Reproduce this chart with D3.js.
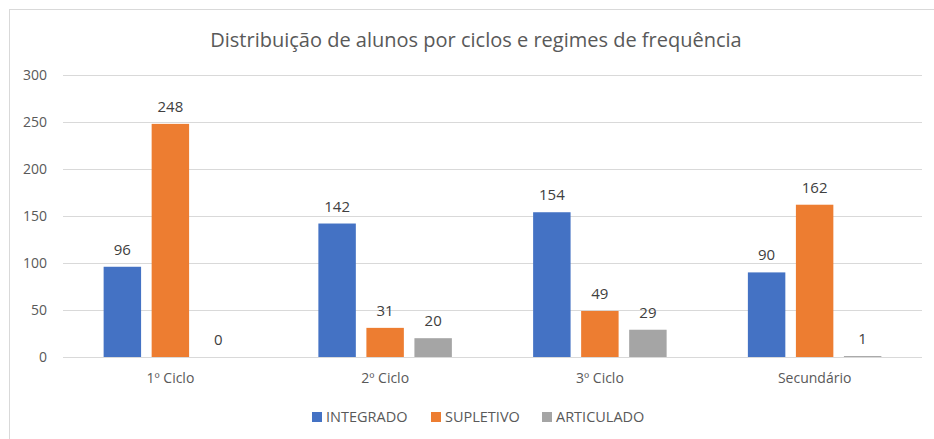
<!DOCTYPE html>
<html>
<head>
<meta charset="utf-8">
<script src="https://cdn.jsdelivr.net/npm/d3@7"></script>
<style>
  html, body { margin: 0; padding: 0; background: #fff; }
  svg { display: block; font-family: "Open Sans", "Liberation Sans", sans-serif; }
</style>
</head>
<body>
<svg id="chart" width="934" height="439"></svg>
<script>
const title = "Distribuição de alunos por ciclos e regimes de frequência";
const categories = ["1º Ciclo", "2º Ciclo", "3º Ciclo", "Secundário"];
const seriesNames = ["INTEGRADO", "SUPLETIVO", "ARTICULADO"];
const integrado = [96, 142, 154, 90];
const supletivo = [248, 31, 49, 162];
const articulado = [0, 20, 29, 1];
const yTicks = [0, 50, 100, 150, 200, 250, 300];
const colors = ["#4472C4", "#ED7D31", "#A5A5A5"];

const seriesValues = [integrado, supletivo, articulado];
const svg = d3.select("#chart");
const W = 934, H = 439;
const margin = { left: 63, right: 12, top: 75, bottom: 82 };
const textColor = "#595959";

// frame
svg.append("rect").attr("x", 9.5).attr("y", 9.5).attr("width", W).attr("height", H)
  .attr("fill", "none").attr("stroke", "#d9d9d9").attr("stroke-width", 1);

const x0 = d3.scaleBand().domain(categories).range([margin.left, W - margin.right]).paddingInner(0).paddingOuter(0);
const groupW = 133.5;
const x1 = d3.scaleBand().domain(seriesNames).range([0, groupW]).paddingInner(0.22).paddingOuter(0);
const y = d3.scaleLinear().domain([0, 300]).range([357, 75]);

// gridlines
svg.append("g").selectAll("line").data(yTicks).join("line")
  .attr("x1", margin.left).attr("x2", W - margin.right)
  .attr("y1", d => Math.round(y(d)) + 0.5).attr("y2", d => Math.round(y(d)) + 0.5)
  .attr("stroke", "#d9d9d9").attr("stroke-width", 1);

// y axis labels
const yAxis = d3.axisLeft(y).tickValues(yTicks).tickSize(0).tickPadding(0);
const gy = svg.append("g").attr("transform", "translate(47,0)").call(yAxis);
gy.select(".domain").remove();
gy.selectAll("text").attr("fill", textColor).style("font-size", "14px")
  .style("font-family", "'Open Sans', 'Liberation Sans', sans-serif");

// x axis labels
const xAxis = d3.axisBottom(x0).tickSize(0).tickPadding(0);
const gx = svg.append("g").attr("transform", "translate(0,373)").call(xAxis);
gx.select(".domain").remove();
gx.selectAll("text").attr("fill", textColor).style("font-size", "14px")
  .style("font-family", "'Open Sans', 'Liberation Sans', sans-serif");

// bars
const groups = svg.append("g").selectAll("g").data(categories).join("g")
  .attr("transform", d => `translate(${x0(d) + (x0.bandwidth() - groupW) / 2},0)`);

groups.each(function(cat, ci) {
  const g = d3.select(this);
  seriesNames.forEach((s, si) => {
    const v = seriesValues[si][ci];
    g.append("rect")
      .attr("x", x1(s)).attr("width", x1.bandwidth())
      .attr("y", y(v)).attr("height", y(0) - y(v))
      .attr("fill", colors[si]);
    g.append("text")
      .attr("x", x1(s) + x1.bandwidth() / 2)
      .attr("y", y(v) - 12)
      .attr("text-anchor", "middle")
      .attr("fill", "#404040")
      .style("font-size", "15px")
      .text(v);
  });
});

// title
svg.append("text").attr("x", 476).attr("y", 47).attr("text-anchor", "middle")
  .attr("fill", textColor).style("font-size", "20px").text(title);

// legend
const legendX = [312, 431, 542];
const lg = svg.append("g").selectAll("g").data(seriesNames).join("g")
  .attr("transform", (d, i) => `translate(${legendX[i]},412)`);
lg.append("rect").attr("width", 10).attr("height", 10).attr("fill", (d, i) => colors[i]);
lg.append("text").attr("x", 14).attr("y", 10).attr("fill", textColor)
  .style("font-size", "14.5px").text(d => d);
</script>
</body>
</html>
